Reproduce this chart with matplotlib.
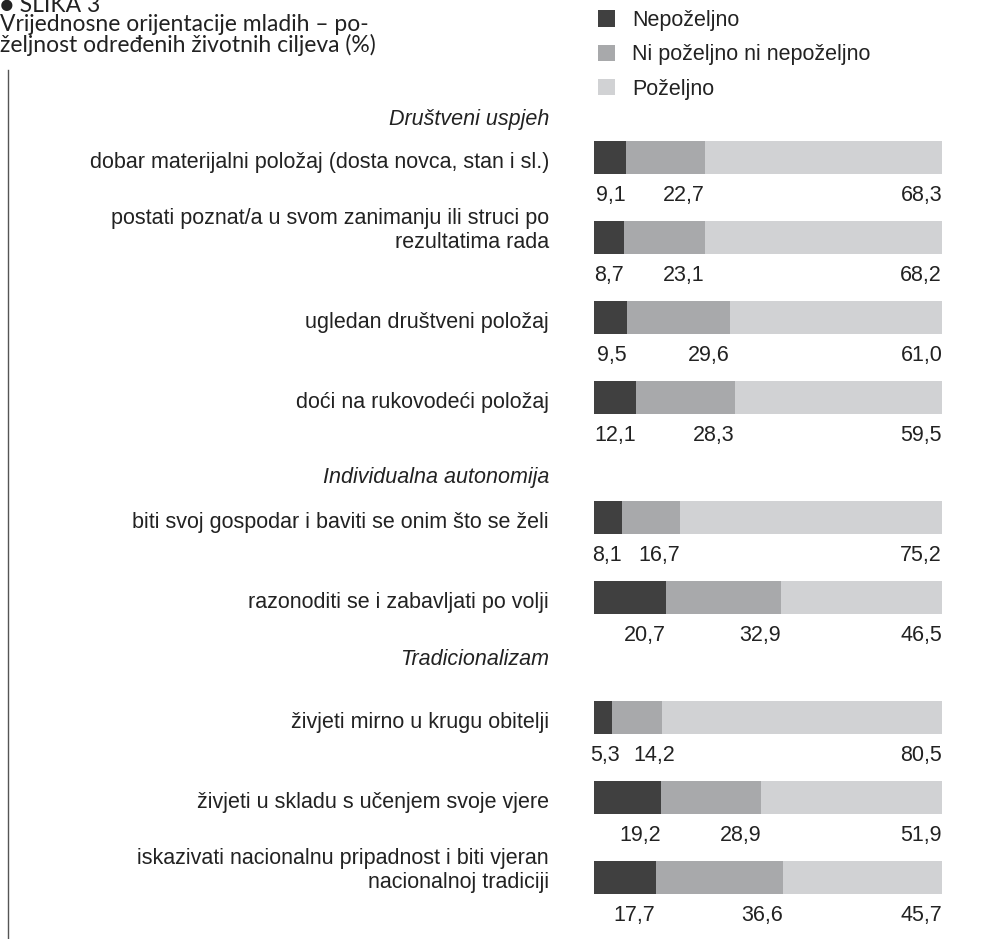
import numpy as np
import matplotlib
matplotlib.use('Agg')
import matplotlib.pyplot as plt
from matplotlib.lines import Line2D

plt.rcParams['font.family'] = ['Liberation Sans', 'DejaVu Sans']

# podaci (%)
labels = [
    'dobar materijalni položaj (dosta novca, stan i sl.)',
    'postati poznat/a u svom zanimanju ili struci po\nrezultatima rada',
    'ugledan društveni položaj',
    'doći na rukovodeći položaj',
    'biti svoj gospodar i baviti se onim što se želi',
    'razonoditi se i zabavljati po volji',
    'živjeti mirno u krugu obitelji',
    'živjeti u skladu s učenjem svoje vjere',
    'iskazivati nacionalnu pripadnost i biti vjeran\nnacionalnoj tradiciji',
]
nepozeljno = [9.1, 8.7, 9.5, 12.1, 8.1, 20.7, 5.3, 19.2, 17.7]
ni_ni = [22.7, 23.1, 29.6, 28.3, 16.7, 32.9, 14.2, 28.9, 36.6]
pozeljno = [68.3, 68.2, 61.0, 59.5, 75.2, 46.5, 80.5, 51.9, 45.7]
groups = ['Društveni uspjeh', 'Individualna autonomija', 'Tradicionalizam']
series_names = ['Nepoželjno', 'Ni poželjno ni nepoželjno', 'Poželjno']
colors = ['#404040', '#a8a9ab', '#d1d2d4']
text_col = '#222222'

# pozicije redaka (razmak izmedju grupa)
ypos = [0, 1, 2, 3, 4.5, 5.5, 7, 8, 9]
header_y = [-0.48, 4.0, 6.28]

fig = plt.figure(figsize=(9.84, 9.39), dpi=100)
ax = fig.add_axes([594 / 984, 0, 348 / 984, 1])
ax.set_xlim(0, 100)
ax.set_ylim(9.77, -1.97)
ax.axis('off')

bars = []
left = np.zeros(len(labels))
for vals, c, name in zip([nepozeljno, ni_ni, pozeljno], colors, series_names):
    b = ax.barh(ypos, vals, left=left, height=0.41, color=c, label=name)
    bars.append(b)
    left = left + np.array(vals)

fs = 15.5
for y, lab in zip(ypos, labels):
    n = lab.count('\n')
    ax.text(-12.9, y + 0.06 - 0.15 * n, lab, ha='right', va='center', fontsize=fs,
            color=text_col, linespacing=1.2, clip_on=False)
for y, g in zip(header_y, groups):
    ax.text(-12.9, y, g, ha='right', va='center', fontsize=fs, color=text_col,
            style='italic', clip_on=False)

# vrijednosti ispod stupaca
val_texts = []
for i, y in enumerate(ypos):
    row_vals = [nepozeljno[i], ni_ni[i], pozeljno[i]]
    ends = np.cumsum(row_vals)
    row = []
    for v, e in zip(row_vals, ends):
        t = ax.text(e, y + 0.47, f'{v:.1f}'.replace('.', ','), ha='right', va='center',
                    fontsize=fs, color=text_col, clip_on=False)
        row.append(t)
    val_texts.append(row)

# pomakni oznake koje se preklapaju
fig.canvas.draw()
r = fig.canvas.get_renderer()
x0 = ax.transData.transform((0, 0))[0]
for row in val_texts:
    prev_right = x0 - 18
    for t in row:
        bb = t.get_window_extent(r)
        shift = max(0, prev_right + 14 - bb.x0)
        if shift > 0:
            xd = ax.transData.transform(t.get_position())
            t.set_position(ax.transData.inverted().transform((xd[0] + shift, xd[1])))
        prev_right = bb.x1 + shift

fig.legend(handles=bars, labels=series_names, loc='upper left',
           bbox_to_anchor=(598 / 984, 1 - 10 / 939), frameon=False, fontsize=fs,
           handlelength=0.8, handleheight=0.8, handletextpad=0.8, labelspacing=0.62,
           labelcolor=text_col, borderpad=0, borderaxespad=0)

# naslov
tfont = ['Lato', 'DejaVu Sans']
fig.text(0.0, 1 - 5 / 939, '\u25cf SLIKA 3', fontsize=16.5, color=text_col,
         va='center', family=tfont)
fig.text(0.0, 1 - 35 / 939, 'Vrijednosne orijentacije mladih – po-\nželjnost određenih životnih ciljeva (%)',
         fontsize=16.5, color=text_col, va='center', linespacing=0.95, family=tfont)
fig.add_artist(Line2D([8 / 984, 8 / 984], [0, 1 - 70 / 939], color='#555555', lw=1.0))

fig.savefig('out.png', dpi=100)
